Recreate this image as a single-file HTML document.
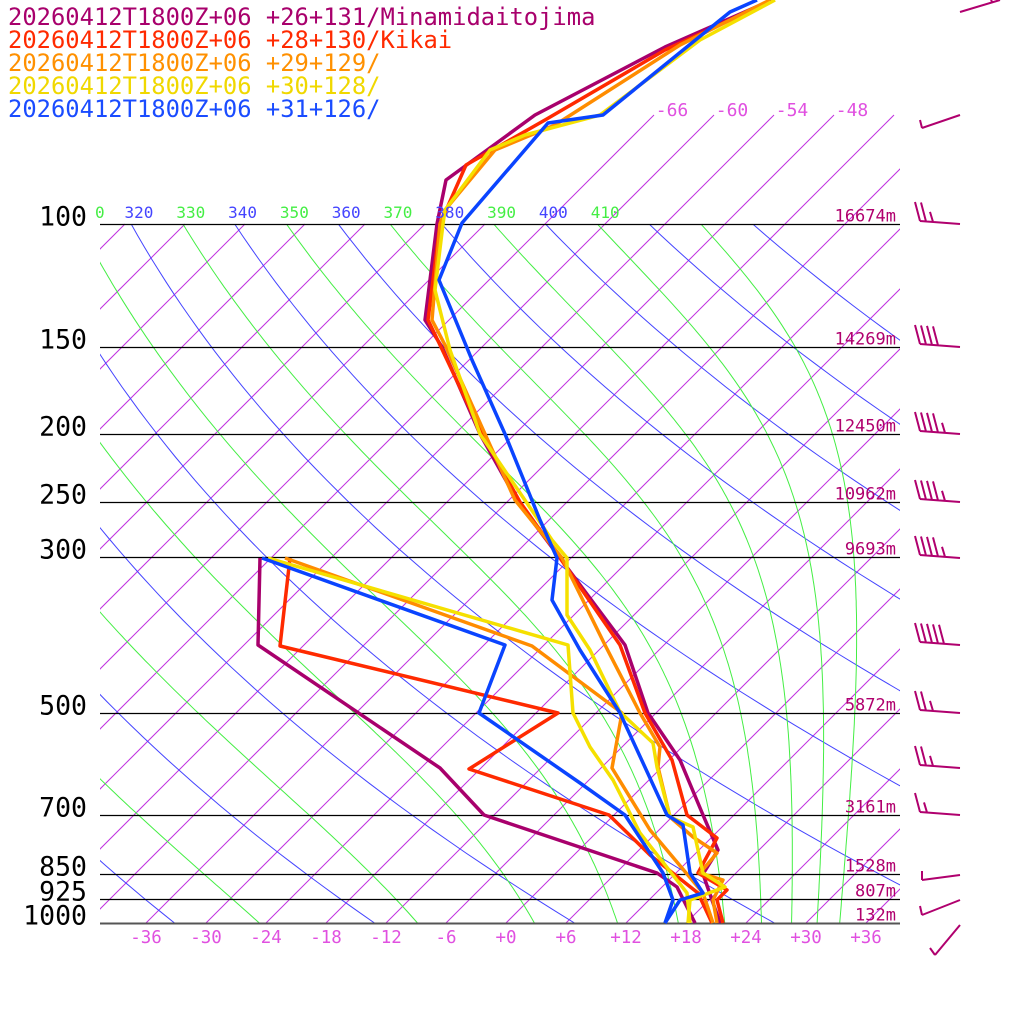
<!DOCTYPE html>
<html><head><meta charset="utf-8"><style>
html,body{margin:0;padding:0;background:#fff;width:1024px;height:1024px;overflow:hidden}
svg{display:block}
text{font-family:"DejaVu Sans Mono","Liberation Mono",monospace}
</style></head><body>
<svg id="s" width="1024" height="1024" xmlns="http://www.w3.org/2000/svg">
<defs><clipPath id="c"><rect x="100" y="0" width="800" height="923"/></clipPath>
<clipPath id="c2"><rect x="100" y="224" width="800" height="699"/></clipPath></defs>
<g id="grid"></g>
<g id="snd" fill="none" stroke-width="3.5" stroke-linejoin="round">
<polyline stroke="#a8006c" points="772,0 665,47 535,115 446,180 437,224 425,320 442,347 480,434 518,502 560,558 625,645 648,713 680,760 703,815 718,850 703,874 712,900 720,923"/>
<polyline stroke="#a8006c" points="260,558 258,645 440,768 484,815 657,873 677,887 695,923"/>
<polyline stroke="#ff2a00" points="752,10 665,50 545,120 466,165 440,224 428,320 440,345 482,434 520,502 560,558 620,645 645,713 672,760 687,815 717,838 698,873 727,890 717,900 723,923"/>
<polyline stroke="#ff2a00" points="290,558 280,646 558,713 469,769 609,815 650,855 698,893 712,923"/>
<polyline stroke="#ff8c00" points="770,0 680,45 555,125 495,150 445,210 440,224 432,320 445,345 485,434 515,500 562,558 605,645 640,713 660,747 658,767 670,817 693,837 717,853 700,873 723,880 713,900 717,923"/>
<polyline stroke="#ff8c00" points="285,558 532,646 622,713 612,768 650,830 703,893 713,923"/>
<polyline stroke="#f5e000" points="775,0 700,40 600,115 525,135 490,150 445,210 443,224 435,290 450,350 480,434 552,540 567,558 567,615 590,650 620,712 653,743 657,767 670,817 693,827 703,873 725,887 690,900 688,923"/>
<polyline stroke="#f5e000" points="268,558 568,645 573,713 590,747 613,780 640,833 687,893 690,923"/>
<polyline stroke="#0a44ff" points="757,0 730,12 603,115 548,123 462,223 439,280 472,360 505,434 540,520 557,558 552,600 580,650 620,713 667,815 683,825 690,873 703,893 680,900 665,923"/>
<polyline stroke="#0a44ff" points="262,558 505,645 479,713 580,783 625,815 663,873 673,900 665,923"/>
</g>
<g id="lab"></g>
<g id="barb" stroke="#b0006e" stroke-width="2" fill="none"></g>
</svg>
<script>
var NS="http://www.w3.org/2000/svg";
function el(p,t,a,txt){var e=document.createElementNS(NS,t);for(var k in a)e.setAttribute(k,a[k]);if(txt!=null)e.textContent=txt;p.appendChild(e);return e;}
function Y(p){return 923+303.6*Math.log(p/1000);}
function X(T,y){return 506+10*T+(923-y);}
var g=document.getElementById('grid'),L=document.getElementById('lab'),B=document.getElementById('barb');
var gi=el(g,'g',{'clip-path':'url(#c)'});
for(var T=-150;T<=60;T+=6){
  var y1=923,y2=(T>=-66)?115:224;
  el(gi,'line',{x1:X(T,y1),y1:y1,x2:X(T,y2),y2:y2,stroke:'#c030e0','stroke-width':1});
}
var ga=el(g,'g',{'clip-path':'url(#c2)'});
for(var th=200;th<=440;th+=20){
  var pts=[];for(var i=0;i<=60;i++){var p=100*Math.pow(10,i/60);var t=th*Math.pow(p/1000,0.2857)-273.15;var y=Y(p);pts.push(X(t,y).toFixed(1)+','+y.toFixed(1));}
  el(ga,'polyline',{points:pts.join(' '),fill:'none',stroke:'#4444ff','stroke-width':1});
}
var LV=2.62e6;
function es(Tc){return 6.112*Math.exp(17.67*Tc/(Tc+243.5));}
function f(T,p){var e=es(T-273.15);var rs=0.622*e/(p-e);return (287*T+LV*rs)/(1005+LV*LV*rs*0.622/(287*T*T));}
for(var th=190;th<=430;th+=20){
  var T=th*Math.pow(0.1,0.2857);var lp=Math.log(100),N=200,h=(Math.log(1000)-lp)/N;var pts=[];
  for(var i=0;i<=N;i++){var p=Math.exp(lp);var y=Y(p);pts.push(X(T-273.15,y).toFixed(1)+','+y.toFixed(1));
    var k1=f(T,p),k2=f(T+h*k1,Math.exp(lp+h));T+=h*(k1+k2)/2;lp+=h;}
  el(ga,'polyline',{points:pts.join(' '),fill:'none',stroke:'#44ee44','stroke-width':1});
}
for(var th=310;th<=410;th+=10){var t=th*Math.pow(0.1,0.2857)-273.15;var x=X(t,224)+8;if(x<95)continue;
  el(L,'text',{x:x,y:218,'font-size':16,'text-anchor':'middle',fill:(th%20==0)?'#4444ff':'#44ee44'},''+th);}
el(L,'text',{x:95,y:218,'font-size':16,fill:'#44ee44'},'0');
var lev=[[100,'100','16674m'],[150,'150','14269m'],[200,'200','12450m'],[250,'250','10962m'],[300,'300','9693m'],[500,'500','5872m'],[700,'700','3161m'],[850,'850','1528m'],[925,'925','807m'],[1000,'1000','132m']];
lev.forEach(function(v){var y=Math.round(Y(v[0]))+0.5;if(v[0]==1000)y=923.5;
  el(g,'line',{x1:100,y1:y,x2:900,y2:y,stroke:v[0]==1000?'#555':'#000','stroke-width':v[0]==1000?2:1.2});
  el(L,'text',{x:87,y:y+1,'font-size':26.5,'text-anchor':'end',fill:'#000'},v[1]);
  el(L,'text',{x:896,y:y-3,'font-size':17,'text-anchor':'end',fill:'#b0006e'},v[2]);});
for(var T=-36;T<=36;T+=6){var s=T>0?'+'+T:(T==0?'+0':''+T);
  el(L,'text',{x:506+10*T,y:943,'font-size':17.5,'text-anchor':'middle',fill:'#e050e0'},s);}
[-66,-60,-54,-48].forEach(function(T){el(L,'text',{x:X(T,115)+18,y:116,'font-size':18,'text-anchor':'middle',fill:'#e050e0'},''+T);});
var leg=[['#a8006c','20260412T1800Z+06 +26+131/Minamidaitojima'],['#ff2a00','20260412T1800Z+06 +28+130/Kikai'],['#ff9000','20260412T1800Z+06 +29+129/'],['#f0d800','20260412T1800Z+06 +30+128/'],['#1a4cff','20260412T1800Z+06 +31+126/']];
leg.forEach(function(v,i){el(L,'text',{x:8,y:25+23*i,'font-size':23.8,fill:v[0]},v[1]);});
function barb(y,full,half){var d='M960,'+y+' L920,'+(y-3);var x=920;
  for(var i=0;i<full;i++){var yy=y-3+(x-920)*3/40;d+=' M'+x+','+yy+' L'+(x-5)+','+(yy-19);x+=6;}
  for(var i=0;i<half;i++){var yy=y-3+(x-920)*3/40;d+=' M'+(x+1)+','+yy+' L'+(x-2)+','+(yy-10);x+=6;}
  el(B,'path',{d:d});}
barb(224,2,1);barb(347,4,0);barb(434,4,1);barb(502,4,1);barb(558,4,1);barb(645,5,0);barb(713,2,1);barb(768,2,1);barb(815,1,1);
el(B,'path',{d:'M960,12 L1000,0 M992,2 L988,-8 M922,128 L960,115 M922,128 L920,120 M922,880 L960,875 M922,880 L922,871 M922,915 L960,900 M922,915 L920,906 M935,955 L960,925 M935,955 L930,948'});
</script>
</body></html>
